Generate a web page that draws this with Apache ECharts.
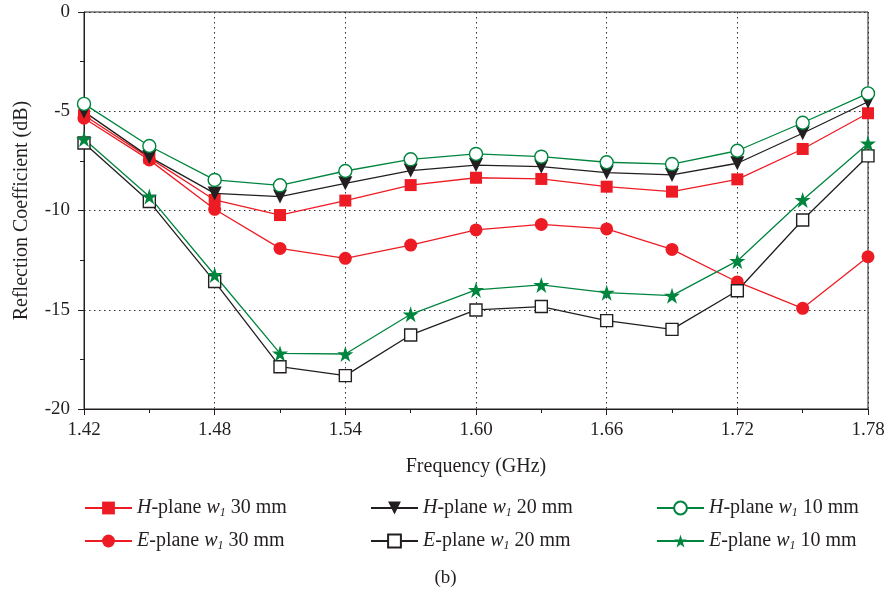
<!DOCTYPE html>
<html>
<head>
<meta charset="utf-8">
<script src="https://cdn.jsdelivr.net/npm/echarts@6/dist/echarts.min.js"></script>
<style>
html,body{margin:0;padding:0;background:#fff;}
#chart{width:891px;height:601px;}
</style>
</head>
<body>
<div id="chart"></div>
<script>
// Frequency (GHz)
const freq = [1.42, 1.45, 1.48, 1.51, 1.54, 1.57, 1.60, 1.63, 1.66, 1.69, 1.72, 1.75, 1.78];
// Reflection coefficient (dB)
const hPlane30 = [-5.2, -7.35, -9.47, -10.23, -9.5, -8.72, -8.35, -8.41, -8.8, -9.05, -8.43, -6.9, -5.1];
const ePlane30 = [-5.35, -7.45, -9.94, -11.91, -12.41, -11.74, -10.98, -10.7, -10.93, -11.96, -13.6, -14.93, -12.33];
const hPlane20 = [-5.02, -7.3, -9.14, -9.3, -8.63, -7.99, -7.71, -7.79, -8.09, -8.21, -7.62, -6.11, -4.52];
const ePlane20 = [-6.6, -9.55, -13.58, -17.87, -18.32, -16.27, -15.01, -14.84, -15.55, -15.99, -14.04, -10.48, -7.25];
const hPlane10 = [-4.63, -6.75, -8.46, -8.73, -8.01, -7.42, -7.15, -7.29, -7.57, -7.66, -6.99, -5.58, -4.1];
const ePlane10 = [-6.4, -9.3, -13.25, -17.2, -17.23, -15.23, -14.0, -13.75, -14.14, -14.29, -12.54, -9.47, -6.62];
const xTicks = [1.42, 1.48, 1.54, 1.60, 1.66, 1.72, 1.78];
const yTicks = [0, -5, -10, -15, -20];

const RED = '#ed1c24', BLACK = '#231f20', GREEN = '#00853f';
const FONT = '"Liberation Serif", "DejaVu Serif", serif';
const STAR = 'path://M100,0 L122.45,69.1 L195.1,69.1 L136.3,111.8 L158.8,180.9 L100,138.2 L41.2,180.9 L63.7,111.8 L4.9,69.1 L77.55,69.1 Z';

function pts(arr){ return freq.map((f,i)=>[f, arr[i]]); }

const legendText = {
  'H30': ['H', '30'], 'E30': ['E', '30'],
  'H20': ['H', '20'], 'E20': ['E', '20'],
  'H10': ['H', '10'], 'E10': ['E', '10']
};

function mk(name, data, color, symbol, size, open, rotate){
  return {
    name: name, type: 'line', data: pts(data),
    symbol: symbol, symbolSize: size, symbolRotate: rotate || 0,
    showAllSymbol: true,
    lineStyle: {color: color, width: 1.3},
    itemStyle: open ? {color: '#fff', borderColor: color, borderWidth: 1.4}
                    : {color: color, borderColor: color, borderWidth: 0},
    emphasis: {disabled: true},
    animation: false
  };
}

const series = [
  mk('H30', hPlane30, RED, 'rect', 12, false),
  mk('E30', ePlane30, RED, 'circle', 13, false),
  mk('H20', hPlane20, BLACK, 'triangle', 14, false, 180),
  mk('E20', ePlane20, BLACK, 'rect', 12, true),
  mk('H10', hPlane10, GREEN, 'circle', 13, true),
  mk('E10', ePlane10, GREEN, STAR, 16, false)
];

const rich = {
  i: {fontFamily: FONT, fontSize: 20, fontStyle: 'italic', color: BLACK, lineHeight: 22},
  n: {fontFamily: FONT, fontSize: 20, color: BLACK, lineHeight: 22},
  s: {fontFamily: FONT, fontSize: 12, fontStyle: 'italic', color: BLACK, lineHeight: 12, verticalAlign: 'bottom', padding: [9,0,0,0]}
};
function fmt(name){
  const t = legendText[name];
  return '{i|' + t[0] + '}{n|-plane }{i|w}{s|1}{n| ' + t[1] + ' mm}';
}
function legendCol(left, names){
  return {
    orient: 'vertical', left: left, top: 498, padding: 0,
    itemWidth: 47, itemHeight: 16, itemGap: 12,
    data: names, formatter: fmt, selectedMode: false,
    textStyle: {rich: rich, fontFamily: FONT, fontSize: 20, color: BLACK}
  };
}

const chart = echarts.init(document.getElementById('chart'), null, {renderer: 'canvas'});
chart.setOption({
  backgroundColor: '#fff',
  animation: false,
  textStyle: {fontFamily: FONT},
  title: {
    text: '(b)', left: 'center', top: 564,
    textStyle: {fontFamily: FONT, fontSize: 19, fontWeight: 'normal', color: BLACK}
  },
  grid: {left: 84, right: 23, top: 12, bottom: 192, show: true, borderColor: BLACK, borderWidth: 1},
  legend: [
    legendCol(84, ['H30', 'E30']),
    legendCol(370, ['H20', 'E20']),
    legendCol(656, ['H10', 'E10'])
  ],
  xAxis: {
    type: 'value', min: xTicks[0], max: xTicks[xTicks.length-1], interval: 0.06,
    name: 'Frequency (GHz)', nameLocation: 'middle', nameGap: 48,
    nameTextStyle: {fontFamily: FONT, fontSize: 20, color: BLACK},
    axisLine: {show: true, onZero: false, lineStyle: {color: BLACK, width: 1}},
    axisTick: {show: true, inside: false, length: 6, lineStyle: {color: BLACK}},
    minorTick: {show: true, splitNumber: 2, length: 4, lineStyle: {color: BLACK}},
    axisLabel: {fontFamily: FONT, fontSize: 19, color: BLACK, margin: 12,
      formatter: v => v.toFixed(2)},
    splitLine: {show: true, lineStyle: {color: '#333', type: [1.5, 3.5], width: 1}}
  },
  yAxis: {
    type: 'value', min: yTicks[yTicks.length-1], max: yTicks[0], interval: 5,
    name: 'Reflection Coefficient (dB)', nameLocation: 'middle', nameGap: 52, nameRotate: 90,
    nameTextStyle: {fontFamily: FONT, fontSize: 20, color: BLACK},
    axisLine: {show: true, onZero: false, lineStyle: {color: BLACK, width: 1}},
    axisTick: {show: true, inside: false, length: 6, lineStyle: {color: BLACK}},
    minorTick: {show: true, splitNumber: 2, length: 4, lineStyle: {color: BLACK}},
    axisLabel: {fontFamily: FONT, fontSize: 19, color: BLACK, margin: 14},
    splitLine: {show: true, lineStyle: {color: '#333', type: [1.5, 3.5], width: 1}}
  },
  series: series
});
</script>
</body>
</html>
